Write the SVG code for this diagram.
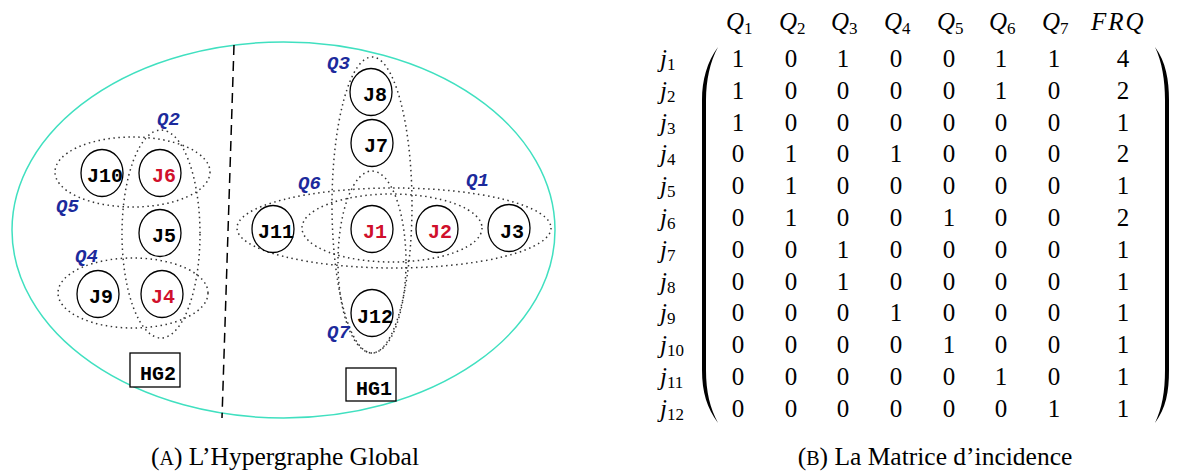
<svg xmlns="http://www.w3.org/2000/svg" width="1179" height="472" viewBox="0 0 1179 472">
<style>
.node ellipse{fill:#fff;stroke:#000;stroke-width:1.3}
.node text{font-family:"Liberation Mono",monospace;font-weight:bold;font-size:20px;text-anchor:middle}
.red{fill:#d0102c}
.blk{fill:#000}
.edge{fill:none;stroke:#333;stroke-width:1.5;stroke-dasharray:1.5 3.5}
.ql{font-family:"Liberation Mono",monospace;font-weight:bold;font-style:italic;font-size:19px;fill:#1c2a9c}
.box rect{fill:#fff;stroke:#000;stroke-width:1.3}
.box text{font-family:"Liberation Mono",monospace;font-weight:bold;font-size:20px;text-anchor:middle}
.m{font-family:"Liberation Serif",serif;font-size:25px;text-anchor:middle;fill:#000}
.mi{font-family:"Liberation Serif",serif;font-size:25px;font-style:italic;fill:#000}
.sub{font-style:normal;font-size:17px}
.cap{font-family:"Liberation Serif",serif;font-size:25.5px;text-anchor:middle;fill:#000}
</style>
<rect width="1179" height="472" fill="#fff"/>
<ellipse cx="283.5" cy="230" rx="271.5" ry="188" fill="none" stroke="#40e0c0" stroke-width="1.5"/>
<line x1="234" y1="45" x2="222" y2="418" stroke="#000" stroke-width="1.5" stroke-dasharray="10 6"/>
<g id="hyperedges">
<ellipse class="edge" cx="161" cy="234" rx="39" ry="104"/>
<ellipse class="edge" cx="132.5" cy="172" rx="77.5" ry="35"/>
<ellipse class="edge" cx="133" cy="293" rx="75" ry="35"/>
<ellipse class="edge" cx="372" cy="205" rx="40" ry="148"/>
<ellipse class="edge" cx="372" cy="262" rx="34" ry="91"/>
<ellipse class="edge" cx="394" cy="228" rx="157" ry="40"/>
<ellipse class="edge" cx="392" cy="228" rx="90" ry="34"/>
</g>
<g id="edge-labels">
<text class="ql" x="157" y="125">Q2</text>
<text class="ql" x="56" y="212">Q5</text>
<text class="ql" x="75" y="262">Q4</text>
<text class="ql" x="327" y="69">Q3</text>
<text class="ql" x="298" y="189">Q6</text>
<text class="ql" x="466" y="186">Q1</text>
<text class="ql" x="327" y="338">Q7</text>
</g>
<g id="J10" class="node"><ellipse cx="102" cy="173" rx="21" ry="23.5"/><text class="blk" x="105" y="182">J10</text></g>
<g id="J6" class="node"><ellipse cx="160" cy="173" rx="21" ry="23.5"/><text class="red" x="164" y="182">J6</text></g>
<g id="J5" class="node"><ellipse cx="160" cy="233" rx="21" ry="23.5"/><text class="blk" x="164" y="242">J5</text></g>
<g id="J9" class="node"><ellipse cx="98" cy="294" rx="21" ry="23.5"/><text class="blk" x="101" y="303">J9</text></g>
<g id="J4" class="node"><ellipse cx="162" cy="294" rx="21" ry="23.5"/><text class="red" x="163" y="303">J4</text></g>
<g id="J8" class="node"><ellipse cx="371" cy="92" rx="21" ry="23.5"/><text class="blk" x="375" y="101">J8</text></g>
<g id="J7" class="node"><ellipse cx="372" cy="143" rx="21" ry="23.5"/><text class="blk" x="376" y="152">J7</text></g>
<g id="J11" class="node"><ellipse cx="273" cy="229" rx="21" ry="23.5"/><text class="blk" x="276" y="238">J11</text></g>
<g id="J1" class="node"><ellipse cx="372" cy="229" rx="21" ry="23.5"/><text class="red" x="375" y="238">J1</text></g>
<g id="J2" class="node"><ellipse cx="437" cy="229" rx="21" ry="23.5"/><text class="red" x="440" y="238">J2</text></g>
<g id="J3" class="node"><ellipse cx="509" cy="228" rx="21" ry="23.5"/><text class="blk" x="512" y="238">J3</text></g>
<g id="J12" class="node"><ellipse cx="372" cy="313" rx="21" ry="23.5"/><text class="blk" x="375" y="323">J12</text></g>
<g id="HG2" class="box"><rect x="130" y="353" width="50" height="34"/><text x="158" y="380">HG2</text></g>
<g id="HG1" class="box"><rect x="346" y="368" width="50" height="33"/><text x="374" y="395">HG1</text></g>
<g id="matrix">
<g id="header">
<text class="mi" x="726" y="30">Q<tspan class="sub" dy="4">1</tspan></text>
<text class="mi" x="779" y="30">Q<tspan class="sub" dy="4">2</tspan></text>
<text class="mi" x="831" y="30">Q<tspan class="sub" dy="4">3</tspan></text>
<text class="mi" x="884" y="30">Q<tspan class="sub" dy="4">4</tspan></text>
<text class="mi" x="937" y="30">Q<tspan class="sub" dy="4">5</tspan></text>
<text class="mi" x="989" y="30">Q<tspan class="sub" dy="4">6</tspan></text>
<text class="mi" x="1042" y="30">Q<tspan class="sub" dy="4">7</tspan></text>
<text class="mi" x="1091" y="30" letter-spacing="2">FRQ</text>
</g>
<g id="rowlabels">
<text class="mi" x="660" y="67">j<tspan class="sub" dy="3">1</tspan></text>
<text class="mi" x="660" y="98.8">j<tspan class="sub" dy="3">2</tspan></text>
<text class="mi" x="660" y="130.6">j<tspan class="sub" dy="3">3</tspan></text>
<text class="mi" x="660" y="162.4">j<tspan class="sub" dy="3">4</tspan></text>
<text class="mi" x="660" y="194.2">j<tspan class="sub" dy="3">5</tspan></text>
<text class="mi" x="660" y="226">j<tspan class="sub" dy="3">6</tspan></text>
<text class="mi" x="660" y="257.8">j<tspan class="sub" dy="3">7</tspan></text>
<text class="mi" x="660" y="289.6">j<tspan class="sub" dy="3">8</tspan></text>
<text class="mi" x="660" y="321.4">j<tspan class="sub" dy="3">9</tspan></text>
<text class="mi" x="660" y="353.2">j<tspan class="sub" dy="3">10</tspan></text>
<text class="mi" x="660" y="385">j<tspan class="sub" dy="3">11</tspan></text>
<text class="mi" x="660" y="416.8">j<tspan class="sub" dy="3">12</tspan></text>
</g>
<path d="M718,47 C707,62 702,80 702,100 L702,370 C702,392 707,408 718,423 C710,408 706,392 706,370 L706,100 C706,80 710,62 718,47 Z" fill="#000"/>
<path d="M1155,47 C1166,62 1169,80 1169,100 L1169,370 C1169,392 1166,408 1155,423 C1162,408 1165,392 1165,370 L1165,100 C1165,80 1162,62 1155,47 Z" fill="#000"/>
<g id="cells">
<text class="m" y="67"><tspan x="738">1</tspan><tspan x="791">0</tspan><tspan x="843">1</tspan><tspan x="896">0</tspan><tspan x="949">0</tspan><tspan x="1001">1</tspan><tspan x="1054">1</tspan><tspan x="1123">4</tspan></text>
<text class="m" y="98.8"><tspan x="738">1</tspan><tspan x="791">0</tspan><tspan x="843">0</tspan><tspan x="896">0</tspan><tspan x="949">0</tspan><tspan x="1001">1</tspan><tspan x="1054">0</tspan><tspan x="1123">2</tspan></text>
<text class="m" y="130.6"><tspan x="738">1</tspan><tspan x="791">0</tspan><tspan x="843">0</tspan><tspan x="896">0</tspan><tspan x="949">0</tspan><tspan x="1001">0</tspan><tspan x="1054">0</tspan><tspan x="1123">1</tspan></text>
<text class="m" y="162.4"><tspan x="738">0</tspan><tspan x="791">1</tspan><tspan x="843">0</tspan><tspan x="896">1</tspan><tspan x="949">0</tspan><tspan x="1001">0</tspan><tspan x="1054">0</tspan><tspan x="1123">2</tspan></text>
<text class="m" y="194.2"><tspan x="738">0</tspan><tspan x="791">1</tspan><tspan x="843">0</tspan><tspan x="896">0</tspan><tspan x="949">0</tspan><tspan x="1001">0</tspan><tspan x="1054">0</tspan><tspan x="1123">1</tspan></text>
<text class="m" y="226"><tspan x="738">0</tspan><tspan x="791">1</tspan><tspan x="843">0</tspan><tspan x="896">0</tspan><tspan x="949">1</tspan><tspan x="1001">0</tspan><tspan x="1054">0</tspan><tspan x="1123">2</tspan></text>
<text class="m" y="257.8"><tspan x="738">0</tspan><tspan x="791">0</tspan><tspan x="843">1</tspan><tspan x="896">0</tspan><tspan x="949">0</tspan><tspan x="1001">0</tspan><tspan x="1054">0</tspan><tspan x="1123">1</tspan></text>
<text class="m" y="289.6"><tspan x="738">0</tspan><tspan x="791">0</tspan><tspan x="843">1</tspan><tspan x="896">0</tspan><tspan x="949">0</tspan><tspan x="1001">0</tspan><tspan x="1054">0</tspan><tspan x="1123">1</tspan></text>
<text class="m" y="321.4"><tspan x="738">0</tspan><tspan x="791">0</tspan><tspan x="843">0</tspan><tspan x="896">1</tspan><tspan x="949">0</tspan><tspan x="1001">0</tspan><tspan x="1054">0</tspan><tspan x="1123">1</tspan></text>
<text class="m" y="353.2"><tspan x="738">0</tspan><tspan x="791">0</tspan><tspan x="843">0</tspan><tspan x="896">0</tspan><tspan x="949">1</tspan><tspan x="1001">0</tspan><tspan x="1054">0</tspan><tspan x="1123">1</tspan></text>
<text class="m" y="385"><tspan x="738">0</tspan><tspan x="791">0</tspan><tspan x="843">0</tspan><tspan x="896">0</tspan><tspan x="949">0</tspan><tspan x="1001">1</tspan><tspan x="1054">0</tspan><tspan x="1123">1</tspan></text>
<text class="m" y="416.8"><tspan x="738">0</tspan><tspan x="791">0</tspan><tspan x="843">0</tspan><tspan x="896">0</tspan><tspan x="949">0</tspan><tspan x="1001">0</tspan><tspan x="1054">1</tspan><tspan x="1123">1</tspan></text>
</g>
</g>
<g id="captions">
<text class="cap" x="285" y="465">(<tspan font-size="20">A</tspan>) L’Hypergraphe Global</text>
<text class="cap" x="935" y="465">(<tspan font-size="20">B</tspan>) La Matrice d’incidence</text>
</g>
</svg>
